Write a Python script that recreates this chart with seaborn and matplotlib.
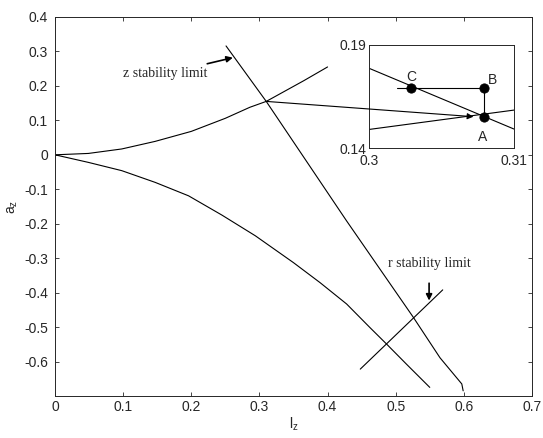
import matplotlib
matplotlib.use("Agg")
import matplotlib.pyplot as plt
import seaborn as sns
from matplotlib.patches import ConnectionPatch

# curve (l_z, a_z)
upper_x = [0.0, 0.049, 0.098, 0.147, 0.2, 0.25, 0.286, 0.31, 0.365, 0.4]
upper_y = [0.0, 0.004, 0.017, 0.039, 0.068, 0.106, 0.138, 0.155, 0.215, 0.255]

lower_x = [0.0, 0.049, 0.098, 0.147, 0.196, 0.245, 0.294, 0.35, 0.389, 0.428, 0.462, 0.487, 0.516, 0.55]
lower_y = [0.0, -0.022, -0.046, -0.080, -0.119, -0.175, -0.235, -0.313, -0.371, -0.433, -0.501, -0.55, -0.608, -0.675]

zlim_x = [0.251, 0.31, 0.428, 0.526, 0.565, 0.597, 0.599]
zlim_y = [0.316, 0.155, -0.192, -0.472, -0.589, -0.665, -0.685]

rlim_x = [0.448, 0.569]
rlim_y = [-0.622, -0.392]

# inset (zoom around the crossing)
inset_z_x = [0.3, 0.31]
inset_z_y = [0.1787, 0.1492]
inset_up_x = [0.3, 0.31]
inset_up_y = [0.149, 0.1584]
path_x = [0.3019, 0.3079, 0.3079]
path_y = [0.169, 0.169, 0.1549]
pt_names = ["C", "B", "A"]
pt_x = [0.30288, 0.3079, 0.3079]
pt_y = [0.169, 0.169, 0.1549]

sns.set_style("ticks")
plt.rcParams["font.family"] = ["Liberation Sans", "DejaVu Sans"]
plt.rcParams["xtick.direction"] = "in"
plt.rcParams["ytick.direction"] = "in"

fig = plt.figure(figsize=(5.43, 4.38), dpi=100)
ax = fig.add_axes([0.1013, 0.0959, 0.8784, 0.8653])

lw = 0.8
for xs, ys in [(upper_x, upper_y), (lower_x, lower_y), (zlim_x, zlim_y), (rlim_x, rlim_y)]:
    sns.lineplot(x=xs, y=ys, sort=False, estimator=None, color="black", lw=lw, ax=ax)

ax.set_xlim(0, 0.7)
ax.set_ylim(-0.7, 0.4)
ax.set_xticks([0, 0.1, 0.2, 0.3, 0.4, 0.5, 0.6, 0.7])
ax.set_xticklabels(["0", "0.1", "0.2", "0.3", "0.4", "0.5", "0.6", "0.7"])
ax.set_yticks([-0.6, -0.5, -0.4, -0.3, -0.2, -0.1, 0, 0.1, 0.2, 0.3, 0.4])
ax.set_yticklabels(["-0.6", "-0.5", "-0.4", "-0.3", "-0.2", "-0.1", "0", "0.1", "0.2", "0.3", "0.4"])
ax.tick_params(top=True, right=True, length=3, width=0.6, labelsize=10)
ax.tick_params(axis="x", pad=3)
ax.tick_params(axis="y", pad=5)
for s in ax.spines.values():
    s.set_linewidth(0.7)
ax.set_xlabel("$\\mathregular{l_z}$", fontsize=10, labelpad=1)
ax.set_ylabel("$\\mathregular{a_z}$", fontsize=10, labelpad=3)

ax.annotate("z stability limit", xy=(0.261, 0.282), xytext=(0.223, 0.235),
            ha="right", va="center", family=["Liberation Serif"], fontsize=10,
            arrowprops=dict(arrowstyle="-|>", color="black", lw=1.2, mutation_scale=9,
                            shrinkA=1, shrinkB=0))
ax.annotate("r stability limit", xy=(0.549, -0.423), xytext=(0.549, -0.316),
            ha="center", va="center", family=["Liberation Serif"], fontsize=10,
            arrowprops=dict(arrowstyle="-|>", color="black", lw=1.2, mutation_scale=9,
                            shrinkA=7, shrinkB=0))

# inset
axi = fig.add_axes([0.6796, 0.6621, 0.267, 0.2352])
sns.lineplot(x=inset_z_x, y=inset_z_y, sort=False, estimator=None, color="black", lw=lw, ax=axi)
sns.lineplot(x=inset_up_x, y=inset_up_y, sort=False, estimator=None, color="black", lw=lw, ax=axi)
sns.lineplot(x=path_x, y=path_y, sort=False, estimator=None, color="black", lw=lw, ax=axi)
sns.scatterplot(x=pt_x, y=pt_y, color="black", s=45, edgecolor="black", ax=axi, zorder=5)
offsets = {"C": (0.0, 0.0055), "B": (0.0006, 0.004), "A": (-0.00005, -0.0095)}
for n, x, y in zip(pt_names, pt_x, pt_y):
    dx, dy = offsets[n]
    axi.text(x + dx, y + dy, n, ha="center", va="center", fontsize=10)
axi.set_xlim(0.3, 0.31)
axi.set_ylim(0.14, 0.19)
axi.set_xticks([0.3, 0.31])
axi.set_xticklabels(["0.3", "0.31"])
axi.set_yticks([0.14, 0.19])
axi.set_yticklabels(["0.14", "0.19"])
axi.tick_params(length=0, labelsize=10)
axi.tick_params(axis="x", pad=4)
axi.tick_params(axis="y", pad=2)
for s in axi.spines.values():
    s.set_linewidth(0.7)

con = ConnectionPatch(xyA=(0.31, 0.155), coordsA=ax.transData,
                      xyB=(0.3072, 0.1552), coordsB=axi.transData,
                      arrowstyle="-|>", color="black", lw=0.8, mutation_scale=9,
                      shrinkA=0, shrinkB=0)
fig.add_artist(con)

fig.savefig("out.png", dpi=100)
